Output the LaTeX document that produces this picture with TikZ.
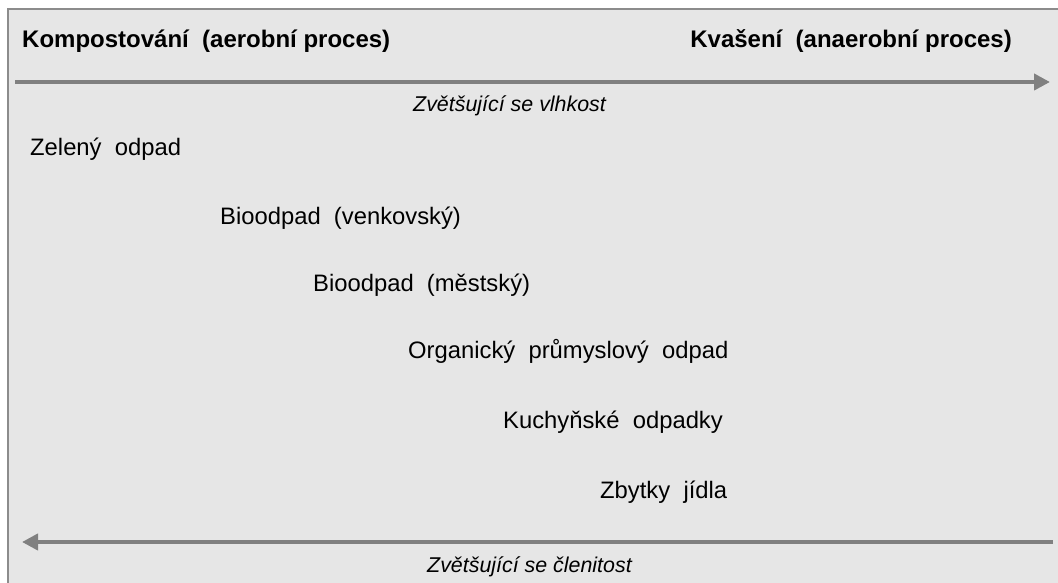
\documentclass[tikz,border=0pt]{standalone}
\usepackage{fontspec}
\setmainfont{Liberation Sans}
\usetikzlibrary{arrows.meta}
\definecolor{bgfill}{HTML}{E6E6E6}
\definecolor{framegray}{HTML}{8C8C8C}
\definecolor{arrowgray}{HTML}{808080}
\begin{document}
\begin{tikzpicture}[x=1pt,y=-1pt,
  lbl/.style={anchor=base west,inner sep=0pt,font=\fontsize{23.8}{26}\selectfont},
  ttl/.style={inner sep=0pt,font=\fontsize{24}{28}\selectfont\bfseries},
  axlbl/.style={anchor=base west,inner sep=0pt,font=\fontsize{21.4}{24}\selectfont\itshape},
  axis/.style={draw=arrowgray,line width=4pt,-{Triangle[length=16pt,width=16pt]}}]
\useasboundingbox (0,0) rectangle (1058,583);
\fill[white] (0,0) rectangle (1058,583);
\filldraw[fill=bgfill,draw=framegray,line width=2pt] (8,9) rectangle (1070,600);
\node[ttl,anchor=base west] (kompost) at (22,48) {Kompostování~ (aerobní proces)};
\node[ttl,anchor=base east] (kvaseni) at (1012,48) {Kvašení~ (anaerobní proces)};
\coordinate (t1) at (15,82);
\coordinate (t2) at (1050,82);
\draw[axis] (t1) -- (t2);
\node[axlbl] (vlhkost) at (413,112) {Zvětšující se vlhkost};
\node[lbl] (zeleny) at (30,156) {Zelený~ odpad};
\node[lbl] (venk) at (220,224) {Bioodpad~ (venkovský)};
\node[lbl] (mest) at (313,291) {Bioodpad~ (městský)};
\node[lbl] (organ) at (408,358) {Organický~ průmyslový~ odpad};
\node[lbl] (kuch) at (503,428) {Kuchyňské~ odpadky};
\node[lbl] (zbytky) at (600,498) {Zbytky~ jídla};
\coordinate (b1) at (1053,542);
\coordinate (b2) at (22,542);
\draw[axis] (b1) -- (b2);
\node[axlbl] (clen) at (427,572) {Zvětšující se členitost};
\end{tikzpicture}
\end{document}
